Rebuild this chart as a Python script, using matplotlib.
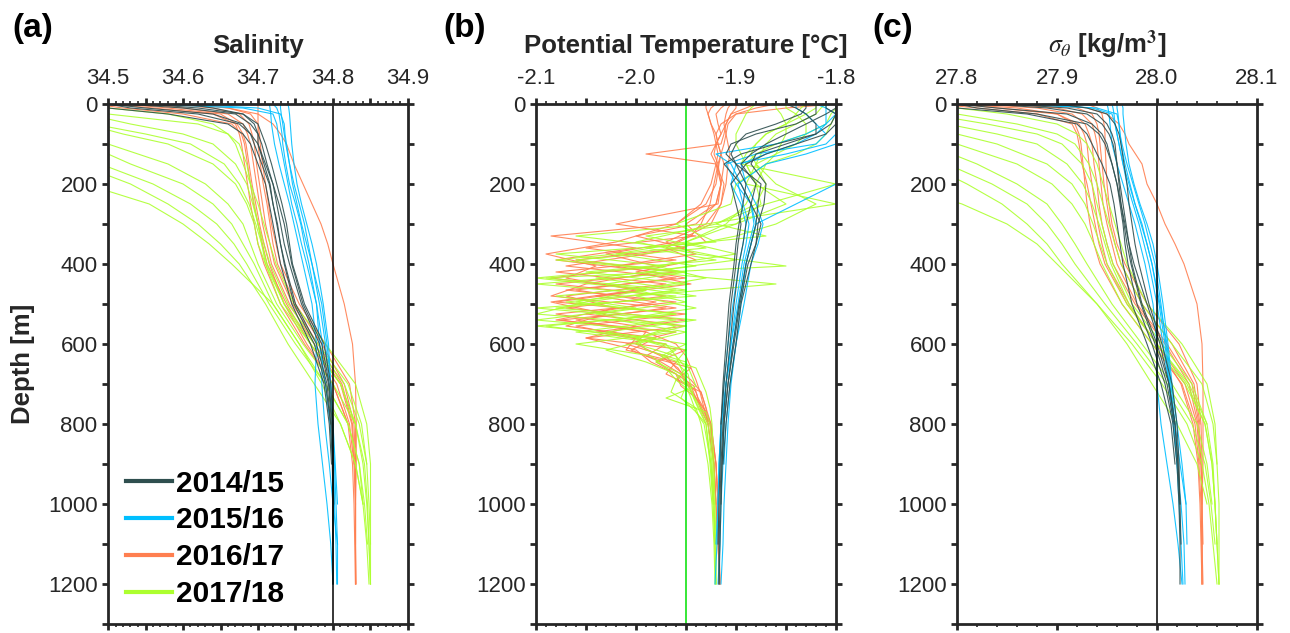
import numpy as np
import matplotlib
matplotlib.use('Agg')
import matplotlib.pyplot as plt
from matplotlib.ticker import MultipleLocator, FuncFormatter
from matplotlib.lines import Line2D

plt.rcParams['font.family'] = ['Liberation Sans', 'DejaVu Sans']
plt.rcParams['mathtext.fontset'] = 'stix'

# ---------------------------------------------------------------- data
YEARS = ['2014/15', '2015/16', '2016/17', '2017/18']
COLORS = ['#2F4F4F', '#00BFFF', '#FF7F50', '#ADFF2F']

# depth grid shared by salinity and sigma-theta profiles [m]
Z_SD = [0, 10, 25, 50, 75, 100, 150, 200, 250, 300, 350, 400, 500, 600,
        700, 800, 900, 1000, 1100, 1200]
# depth grids for potential temperature profiles [m]
Z_T = [0, 10, 25, 50, 75, 100, 125, 150, 200, 250, 300, 350, 400, 500, 600,
       700, 800, 900, 1000, 1100, 1200]
Z_TI = [0, 10, 25, 50, 75, 100, 125, 150, 200, 250, 300, 330, 360, 390, 420,
        450, 480, 510, 540, 570, 600, 630, 660, 690, 720, 760, 800, 900, 1000,
        1100, 1200]
Z_TI2 = [0, 10, 25, 50, 75, 100, 125, 150, 200, 250, 300, 345, 375, 405, 435,
         465, 495, 525, 555, 585, 615, 645, 675, 705, 735, 770, 800, 900, 1000,
         1100, 1200]

# ---- salinity profiles (on Z_SD)
SAL_1415 = [
    [34.50, 34.55, 34.64, 34.68, 34.69, 34.695, 34.705, 34.715, 34.72, 34.725, 34.73, 34.735, 34.748, 34.775, 34.79, 34.797, 34.799, 34.80, 34.80, 34.80],
    [34.52, 34.60, 34.67, 34.69, 34.70, 34.705, 34.712, 34.72, 34.725, 34.73, 34.735, 34.742, 34.758, 34.782, 34.794, 34.798, 34.80, 34.801],
    [34.46, 34.50, 34.58, 34.66, 34.68, 34.69, 34.70, 34.71, 34.715, 34.72, 34.725, 34.73, 34.745, 34.77, 34.788, 34.795, 34.798],
    [34.60, 34.64, 34.68, 34.70, 34.705, 34.71, 34.718, 34.725, 34.732, 34.738, 34.742, 34.746, 34.762, 34.788, 34.797, 34.80, 34.80, 34.80, 34.80],
    [34.55, 34.62, 34.68, 34.695, 34.70, 34.70, 34.708, 34.716, 34.72, 34.726, 34.73, 34.736, 34.75, 34.778, 34.792, 34.797],
    [34.50, 34.53, 34.62, 34.675, 34.69, 34.70, 34.71, 34.72, 34.728, 34.735, 34.74, 34.745, 34.76, 34.785, 34.795, 34.799, 34.80, 34.80, 34.80, 34.80],
]
SAL_1516 = [
    [34.715, 34.716, 34.717, 34.718, 34.72, 34.722, 34.728, 34.735, 34.742, 34.748, 34.754, 34.760, 34.772, 34.778, 34.776, 34.780, 34.786, 34.792, 34.797, 34.800],
    [34.60, 34.70, 34.73, 34.735, 34.736, 34.738, 34.742, 34.748, 34.755, 34.762, 34.767, 34.772, 34.782, 34.790, 34.795, 34.799, 34.802, 34.804, 34.806, 34.806],
    [34.74, 34.741, 34.742, 34.743, 34.744, 34.745, 34.748, 34.752, 34.758, 34.765, 34.772, 34.778, 34.787, 34.794, 34.797, 34.800, 34.803, 34.806],
    [34.55, 34.68, 34.72, 34.725, 34.727, 34.73, 34.735, 34.74, 34.745, 34.752, 34.758, 34.765, 34.778, 34.786, 34.785, 34.789, 34.795, 34.80, 34.806],
    [34.72, 34.725, 34.728, 34.73, 34.732, 34.733, 34.737, 34.742, 34.75, 34.757, 34.762, 34.768, 34.778, 34.782, 34.79, 34.796, 34.80],
    [34.73, 34.73, 34.731, 34.733, 34.735, 34.737, 34.742, 34.746, 34.752, 34.758, 34.765, 34.772, 34.785, 34.792, 34.797, 34.800, 34.801, 34.802, 34.804, 34.805],
]
SAL_1617 = [
    [34.60, 34.66, 34.70, 34.72, 34.73, 34.738, 34.748, 34.76, 34.772, 34.784, 34.793, 34.80, 34.815, 34.826, 34.83, 34.831, 34.831, 34.83, 34.83, 34.83],
    [34.50, 34.56, 34.64, 34.67, 34.675, 34.678, 34.682, 34.686, 34.69, 34.695, 34.70, 34.708, 34.73, 34.762, 34.80, 34.82, 34.826, 34.828, 34.829, 34.83],
    [34.55, 34.60, 34.66, 34.68, 34.686, 34.69, 34.694, 34.698, 34.702, 34.706, 34.712, 34.718, 34.742, 34.775, 34.81, 34.825, 34.828, 34.83],
    [34.62, 34.66, 34.69, 34.70, 34.702, 34.703, 34.706, 34.71, 34.714, 34.718, 34.724, 34.73, 34.755, 34.79, 34.822, 34.83, 34.83, 34.83, 34.83],
    [34.48, 34.52, 34.60, 34.665, 34.678, 34.682, 34.686, 34.69, 34.694, 34.70, 34.706, 34.712, 34.738, 34.77, 34.805, 34.822, 34.828],
    [34.70, 34.70, 34.70, 34.70, 34.70, 34.70, 34.703, 34.707, 34.712, 34.716, 34.72, 34.726, 34.75, 34.785, 34.815, 34.828, 34.83, 34.83, 34.83, 34.83],
    [34.58, 34.64, 34.675, 34.688, 34.692, 34.695, 34.698, 34.702, 34.706, 34.71, 34.716, 34.722, 34.746, 34.78, 34.812, 34.826, 34.829, 34.83, 34.83, 34.831],
    [34.52, 34.58, 34.65, 34.672, 34.68, 34.684, 34.688, 34.692, 34.697, 34.702, 34.708, 34.715, 34.735, 34.765, 34.80, 34.82],
]
SAL_1718 = [
    [34.40, 34.45, 34.50, 34.62, 34.66, 34.675, 34.685, 34.69, 34.695, 34.70, 34.705, 34.71, 34.73, 34.77, 34.81, 34.83, 34.84, 34.845, 34.848, 34.85],
    [34.35, 34.38, 34.42, 34.47, 34.52, 34.58, 34.64, 34.67, 34.685, 34.695, 34.70, 34.71, 34.735, 34.775, 34.815, 34.835, 34.845, 34.848, 34.85],
    [34.30, 34.32, 34.35, 34.39, 34.43, 34.47, 34.53, 34.60, 34.64, 34.665, 34.68, 34.695, 34.72, 34.755, 34.79, 34.82, 34.835, 34.84],
    [34.25, 34.27, 34.30, 34.34, 34.38, 34.41, 34.46, 34.53, 34.58, 34.62, 34.65, 34.675, 34.71, 34.74, 34.775, 34.81, 34.83, 34.84, 34.845, 34.848],
    [34.20, 34.22, 34.25, 34.28, 34.31, 34.34, 34.40, 34.47, 34.555, 34.60, 34.635, 34.665, 34.72, 34.755, 34.785, 34.81, 34.83, 34.84],
    [34.30, 34.33, 34.37, 34.42, 34.46, 34.50, 34.58, 34.63, 34.66, 34.68, 34.69, 34.70, 34.725, 34.76, 34.80, 34.83, 34.842, 34.846, 34.848, 34.85],
    [34.40, 34.43, 34.47, 34.53, 34.60, 34.64, 34.67, 34.685, 34.693, 34.70, 34.708, 34.716, 34.74, 34.78, 34.82, 34.838, 34.845],
    [34.20, 34.23, 34.27, 34.32, 34.37, 34.41, 34.49, 34.56, 34.61, 34.645, 34.668, 34.685, 34.715, 34.75, 34.79, 34.82, 34.835, 34.842, 34.846],
    [34.35, 34.38, 34.42, 34.48, 34.55, 34.61, 34.655, 34.675, 34.688, 34.697, 34.705, 34.712, 34.735, 34.77, 34.81, 34.83],
    [34.47, 34.50, 34.58, 34.64, 34.66, 34.67, 34.68, 34.69, 34.70, 34.708, 34.716, 34.724, 34.748, 34.79, 34.83, 34.845, 34.85, 34.85, 34.85, 34.85],
]

# ---- potential temperature profiles
# 2014/15 and 2015/16 on Z_T
THETA_1415 = [
    [-1.80, -1.80, -1.81, -1.83, -1.85, -1.87, -1.885, -1.895, -1.88, -1.885, -1.89, -1.893, -1.897, -1.902, -1.906, -1.91, -1.913, -1.915, -1.916, -1.917, -1.917],
    [-1.82, -1.82, -1.82, -1.84, -1.88, -1.905, -1.91, -1.90, -1.875, -1.878, -1.88, -1.885, -1.89, -1.897, -1.903, -1.908, -1.912, -1.914, -1.915],
    [-1.81, -1.81, -1.80, -1.80, -1.81, -1.84, -1.87, -1.89, -1.905, -1.90, -1.895, -1.898, -1.90, -1.905, -1.908, -1.912, -1.915, -1.916, -1.917, -1.918],
    [-1.85, -1.84, -1.83, -1.82, -1.82, -1.86, -1.895, -1.912, -1.895, -1.885, -1.875, -1.88, -1.885, -1.895, -1.90, -1.906, -1.91, -1.913],
    [-1.80, -1.80, -1.80, -1.805, -1.82, -1.85, -1.88, -1.885, -1.87, -1.872, -1.878, -1.88, -1.888, -1.896, -1.902, -1.908, -1.912, -1.914, -1.915, -1.916, -1.917],
    [-1.83, -1.83, -1.835, -1.86, -1.89, -1.90, -1.905, -1.90, -1.89, -1.893, -1.897, -1.90, -1.902, -1.907, -1.91, -1.913, -1.915],
]
THETA_1516 = [
    [-1.80, -1.80, -1.80, -1.80, -1.80, -1.81, -1.85, -1.90, -1.905, -1.895, -1.89, -1.893, -1.897, -1.903, -1.908, -1.912, -1.915, -1.917, -1.918, -1.919, -1.921],
    [-1.82, -1.81, -1.80, -1.80, -1.80, -1.80, -1.80, -1.80, -1.80, -1.84, -1.88, -1.885, -1.89, -1.897, -1.903, -1.91, -1.914, -1.916, -1.918, -1.92],
    [-1.84, -1.84, -1.83, -1.82, -1.81, -1.82, -1.88, -1.91, -1.90, -1.885, -1.88, -1.885, -1.89, -1.895, -1.90, -1.905, -1.908, -1.91, -1.912, -1.913, -1.915],
    [-1.80, -1.80, -1.80, -1.81, -1.83, -1.86, -1.92, -1.905, -1.895, -1.885, -1.882, -1.887, -1.892, -1.898, -1.905, -1.91, -1.915, -1.917, -1.918],
    [-1.81, -1.81, -1.81, -1.81, -1.82, -1.84, -1.87, -1.895, -1.89, -1.88, -1.873, -1.878, -1.885, -1.892, -1.90, -1.906, -1.91, -1.912],
    [-1.80, -1.80, -1.80, -1.80, -1.80, -1.80, -1.83, -1.87, -1.898, -1.893, -1.887, -1.89, -1.894, -1.90, -1.905, -1.91, -1.912, -1.913, -1.915, -1.916, -1.918],
]
# 2016/17: part A on Z_TI, part B on Z_TI2
THETA_1617_A = [
    [-1.910, -1.915, -1.920, -1.918, -1.915, -1.920, -1.922, -1.918, -1.915, -1.920, -1.940, -2.000, -1.950, -2.060, -1.960, -2.080, -1.970, -2.070, -1.950, -2.040, -1.970, -1.990, -1.945, -1.960, -1.935, -1.930, -1.925, -1.920, -1.918, -1.917, -1.916],
    [-1.800, -1.850, -1.900, -1.915, -1.920, -1.918, -1.915, -1.917, -1.920, -1.930, -1.960, -2.085, -2.000, -2.080, -1.980, -2.050, -2.085, -1.970, -2.060, -1.990, -2.000, -1.975, -1.958, -1.950, -1.940, -1.935, -1.928, -1.922, -1.920],
    [-1.920, -1.925, -1.928, -1.925, -1.920, -1.918, -1.915, -1.912, -1.915, -1.918, -2.020, -1.940, -2.050, -1.960, -2.080, -1.970, -2.070, -2.020, -2.080, -1.960, -2.010, -1.970, -1.960, -1.945, -1.935, -1.930, -1.928],
    [-1.860, -1.880, -1.900, -1.908, -1.910, -1.912, -1.915, -1.918, -1.922, -1.926, -1.935, -1.945, -1.970, -1.940, -2.000, -1.945, -2.040, -1.960, -2.075, -1.990, -1.960, -1.950, -1.945, -1.940, -1.936, -1.932, -1.928, -1.922, -1.920, -1.918, -1.916],
]
THETA_1617_B = [
    [-1.880, -1.890, -1.905, -1.910, -1.912, -1.915, -1.990, -1.920, -1.912, -1.915, -1.925, -1.960, -2.030, -1.980, -2.085, -1.990, -2.080, -1.950, -2.060, -2.000, -2.010, -1.960, -1.970, -1.945, -1.940, -1.932, -1.926, -1.920, -1.918, -1.917],
    [-1.905, -1.908, -1.910, -1.912, -1.910, -1.908, -1.906, -1.908, -1.910, -1.915, -1.930, -1.970, -1.940, -2.020, -1.950, -2.070, -1.960, -2.080, -2.000, -2.050, -1.950, -1.980, -1.960, -1.955, -1.940, -1.930, -1.925, -1.920, -1.918, -1.917, -1.916],
    [-1.900, -1.900, -1.905, -1.910, -1.915, -1.920, -1.925, -1.920, -1.915, -1.920, -1.950, -1.930, -1.990, -2.070, -1.960, -2.060, -1.980, -2.050, -1.950, -2.050, -2.000, -1.985, -1.960, -1.942, -1.938, -1.930, -1.926, -1.922, -1.920, -1.918, -1.916],
    [-1.930, -1.930, -1.928, -1.925, -1.922, -1.920, -1.918, -1.920, -1.925, -1.935, -1.960, -2.020, -2.090, -2.040, -2.070, -2.000, -2.085, -2.030, -2.070, -1.980, -2.005, -1.975, -1.955, -1.948, -1.940, -1.934, -1.928],
]
# 2017/18: part A on Z_TI, part B on Z_TI2
THETA_1718_A = [
    [-1.800, -1.800, -1.805, -1.810, -1.830, -1.860, -1.880, -1.890, -1.880, -1.850, -1.900, -1.990, -1.930, -2.060, -1.950, -2.100, -1.960, -2.080, -1.940, -2.030, -1.950, -1.975, -1.940, -1.935, -1.930, -1.926, -1.924, -1.922, -1.921, -1.920, -1.920],
    [-1.850, -1.850, -1.840, -1.830, -1.830, -1.840, -1.860, -1.880, -1.890, -1.800, -1.930, -2.060, -1.960, -2.080, -1.950, -2.030, -1.940, -2.100, -1.960, -2.060, -1.970, -1.960, -1.950, -1.960, -1.945, -1.935, -1.928, -1.924, -1.922],
    [-1.810, -1.815, -1.820, -1.840, -1.860, -1.870, -1.875, -1.880, -1.860, -1.820, -1.860, -1.900, -1.960, -1.900, -1.990, -1.860, -2.000, -1.940, -2.020, -1.950, -2.000, -1.960, -1.955, -1.950, -1.945, -1.938, -1.930],
    [-1.830, -1.835, -1.840, -1.850, -1.870, -1.880, -1.885, -1.880, -1.870, -1.880, -1.920, -1.870, -1.990, -1.920, -2.050, -1.950, -2.080, -2.000, -2.100, -1.960, -2.060, -1.985, -1.970, -1.960, -1.965, -1.940, -1.935, -1.928, -1.924, -1.922, -1.921],
]
THETA_1718_B = [
    [-1.820, -1.820, -1.830, -1.850, -1.870, -1.880, -1.890, -1.895, -1.800, -1.870, -1.920, -2.000, -1.940, -1.850, -2.090, -1.960, -2.050, -2.100, -1.950, -2.000, -1.990, -1.950, -1.945, -1.940, -1.970, -1.930, -1.926, -1.923, -1.922, -1.921],
    [-1.880, -1.885, -1.890, -1.895, -1.900, -1.900, -1.895, -1.890, -1.880, -1.875, -1.900, -1.950, -2.020, -1.940, -2.040, -1.950, -2.070, -1.960, -2.100, -1.980, -2.030, -1.990, -1.960, -1.950, -1.955, -1.940, -1.932, -1.925, -1.922, -1.921, -1.920],
    [-1.800, -1.800, -1.800, -1.805, -1.810, -1.820, -1.840, -1.870, -1.900, -1.905, -1.960, -1.920, -2.080, -1.970, -2.100, -1.990, -2.060, -1.960, -2.090, -2.000, -1.960, -1.980, -1.955, -1.950, -1.945, -1.940, -1.930, -1.925, -1.923, -1.921, -1.920],
    [-1.860, -1.860, -1.855, -1.850, -1.850, -1.855, -1.860, -1.870, -1.880, -1.890, -1.910, -1.950, -1.900, -1.980, -1.930, -2.000, -1.950, -2.040, -1.960, -2.000, -1.950, -1.960, -1.948, -1.945, -1.942, -1.935, -1.930, -1.926, -1.923],
]

# ---- sigma-theta profiles (on Z_SD)
SIG_1415 = [
    [27.80, 27.84, 27.91, 27.935, 27.945, 27.95, 27.955, 27.96, 27.963, 27.966, 27.968, 27.971, 27.98, 27.995, 28.008, 28.016, 28.02, 28.022, 28.023, 28.023],
    [27.83, 27.89, 27.93, 27.945, 27.952, 27.956, 27.96, 27.963, 27.966, 27.969, 27.972, 27.975, 27.985, 28.0, 28.012, 28.018, 28.021, 28.023],
    [27.78, 27.80, 27.87, 27.92, 27.93, 27.935, 27.945, 27.953, 27.957, 27.96, 27.963, 27.966, 27.975, 27.99, 28.004, 28.014, 28.018],
    [27.90, 27.93, 27.95, 27.958, 27.962, 27.964, 27.967, 27.97, 27.972, 27.975, 27.978, 27.982, 27.992, 28.005, 28.015, 28.02, 28.022, 28.023, 28.024],
    [27.85, 27.91, 27.94, 27.95, 27.955, 27.958, 27.96, 27.962, 27.964, 27.967, 27.97, 27.974, 27.984, 27.998, 28.01, 28.017],
    [27.80, 27.82, 27.88, 27.93, 27.942, 27.948, 27.955, 27.96, 27.964, 27.968, 27.972, 27.977, 27.99, 28.003, 28.012, 28.018, 28.021, 28.023],
]
SIG_1516 = [
    [27.95, 27.951, 27.952, 27.953, 27.954, 27.955, 27.96, 27.966, 27.972, 27.978, 27.983, 27.988, 27.996, 28.0, 28.0, 28.004, 28.01, 28.016, 28.021, 28.025],
    [27.85, 27.94, 27.96, 27.962, 27.963, 27.964, 27.968, 27.973, 27.978, 27.984, 27.99, 27.995, 28.002, 28.008, 28.012, 28.016, 28.02, 28.024, 28.027, 28.028],
    [27.965, 27.966, 27.966, 27.967, 27.968, 27.969, 27.972, 27.977, 27.983, 27.99, 27.996, 28.0, 28.006, 28.011, 28.015, 28.02, 28.025, 28.029, 28.03],
    [27.88, 27.935, 27.955, 27.958, 27.96, 27.962, 27.966, 27.97, 27.976, 27.982, 27.987, 27.992, 28.0, 28.006, 28.012, 28.018, 28.023, 28.029],
    [27.955, 27.956, 27.957, 27.958, 27.96, 27.962, 27.966, 27.972, 27.978, 27.985, 27.99, 27.995, 28.003, 28.01, 28.014, 28.018],
    [27.96, 27.96, 27.961, 27.962, 27.963, 27.965, 27.97, 27.976, 27.982, 27.988, 27.993, 27.998, 28.004, 28.009, 28.013, 28.017, 28.02, 28.022, 28.024, 28.026],
]
SIG_1617 = [
    [27.90, 27.93, 27.95, 27.962, 27.968, 27.972, 27.985, 27.99, 28.0, 28.008, 28.018, 28.027, 28.04, 28.045, 28.046, 28.046, 28.046, 28.045, 28.045, 28.045],
    [27.80, 27.86, 27.90, 27.918, 27.922, 27.924, 27.926, 27.928, 27.93, 27.933, 27.937, 27.943, 27.965, 27.995, 28.025, 28.038, 28.042, 28.044, 28.045, 28.045],
    [27.85, 27.90, 27.925, 27.935, 27.938, 27.94, 27.942, 27.944, 27.946, 27.95, 27.955, 27.96, 27.98, 28.01, 28.035, 28.042, 28.044, 28.045],
    [27.93, 27.94, 27.945, 27.947, 27.948, 27.948, 27.949, 27.95, 27.952, 27.955, 27.96, 27.968, 27.99, 28.022, 28.04, 28.044, 28.045, 28.045, 28.046],
    [27.78, 27.82, 27.88, 27.915, 27.92, 27.922, 27.925, 27.93, 27.934, 27.938, 27.942, 27.948, 27.97, 28.0, 28.028, 28.04, 28.043],
    [27.82, 27.88, 27.915, 27.928, 27.932, 27.935, 27.937, 27.94, 27.942, 27.945, 27.95, 27.956, 27.978, 28.008, 28.032, 28.041, 28.044, 28.045, 28.045, 28.046],
    [27.88, 27.92, 27.935, 27.94, 27.942, 27.943, 27.945, 27.947, 27.95, 27.953, 27.958, 27.964, 27.985, 28.015, 28.037, 28.043],
    [27.80, 27.84, 27.90, 27.922, 27.927, 27.93, 27.932, 27.935, 27.938, 27.941, 27.945, 27.95, 27.972, 28.0, 28.024, 28.036, 28.041, 28.043, 28.044, 28.045],
]
SIG_1718 = [
    [27.70, 27.73, 27.77, 27.83, 27.88, 27.905, 27.925, 27.935, 27.94, 27.945, 27.95, 27.956, 27.975, 28.005, 28.035, 28.05, 28.056, 28.058, 28.06, 28.062],
    [27.65, 27.67, 27.71, 27.76, 27.80, 27.84, 27.89, 27.915, 27.928, 27.936, 27.943, 27.95, 27.97, 28.0, 28.03, 28.048, 28.055, 28.058, 28.06],
    [27.60, 27.62, 27.65, 27.69, 27.73, 27.77, 27.82, 27.86, 27.89, 27.905, 27.918, 27.93, 27.955, 27.985, 28.015, 28.04, 28.05, 28.055],
    [27.55, 27.57, 27.60, 27.64, 27.68, 27.71, 27.77, 27.81, 27.845, 27.87, 27.89, 27.905, 27.94, 27.975, 28.005, 28.03, 28.045, 28.052, 28.056, 28.06],
    [27.50, 27.52, 27.55, 27.59, 27.63, 27.66, 27.70, 27.74, 27.805, 27.85, 27.88, 27.90, 27.94, 27.97, 27.995, 28.02, 28.04, 28.05],
    [27.60, 27.63, 27.67, 27.72, 27.76, 27.80, 27.86, 27.895, 27.915, 27.928, 27.937, 27.945, 27.965, 27.995, 28.028, 28.048, 28.055, 28.058, 28.06, 28.062],
    [27.72, 27.76, 27.80, 27.86, 27.90, 27.918, 27.932, 27.94, 27.946, 27.952, 27.958, 27.964, 27.985, 28.015, 28.045, 28.056, 28.06],
    [27.55, 27.58, 27.62, 27.66, 27.70, 27.74, 27.79, 27.835, 27.87, 27.89, 27.905, 27.918, 27.948, 27.98, 28.01, 28.035, 28.048, 28.054, 28.058],
    [27.65, 27.69, 27.74, 27.79, 27.84, 27.88, 27.91, 27.926, 27.935, 27.942, 27.948, 27.954, 27.972, 28.0, 28.032, 28.05],
    [27.78, 27.80, 27.85, 27.90, 27.92, 27.93, 27.94, 27.946, 27.952, 27.958, 27.964, 27.97, 27.99, 28.025, 28.05, 28.058, 28.06, 28.062, 28.062, 28.062],
]

# reference lines
REF_SAL = 34.80
REF_THETA = -1.95
REF_SIG = 28.00

# ---------------------------------------------------------------- figure
fig = plt.figure(figsize=(12.9, 6.33), dpi=100)
FW, FH = 1290.0, 633.0
W = 300 / FW
H = 520 / FH
BOT = 1 - 624 / FH
LEFTS = [108 / FW, 536 / FW, 957 / FW]
INK = '#262626'

# (profiles, depth grid, year index) in drawing order
panels = [
    dict(data=[(SAL_1617, Z_SD, 2), (SAL_1718, Z_SD, 3),
               (SAL_1516, Z_SD, 1), (SAL_1415, Z_SD, 0)],
         xlim=(34.5, 34.9), major=0.05, minor=0.01, ref=REF_SAL, refc='black',
         title='Salinity', tag='(a)', tagx=12),
    dict(data=[(THETA_1617_A, Z_TI, 2), (THETA_1617_B, Z_TI2, 2),
               (THETA_1718_A, Z_TI, 3), (THETA_1718_B, Z_TI2, 3),
               (THETA_1516, Z_T, 1), (THETA_1415, Z_T, 0)],
         xlim=(-2.1, -1.8), major=0.05, minor=0.01, ref=REF_THETA, refc='#00E000',
         title='Potential Temperature [\u00b0C]', tag='(b)', tagx=443),
    dict(data=[(SIG_1617, Z_SD, 2), (SIG_1718, Z_SD, 3),
               (SIG_1516, Z_SD, 1), (SIG_1415, Z_SD, 0)],
         xlim=(27.8, 28.1), major=0.1, minor=0.02, ref=REF_SIG, refc='black',
         title=r'$\sigma_\theta$ [kg/m$^{\mathbf{3}}$]', tag='(c)', tagx=872),
]


def xfmt(v, p):
    if abs(round(v * 10) - v * 10) < 1e-6:
        return f'{v:.1f}'
    return ''


def yfmt(v, p):
    iv = int(round(v))
    return str(iv) if iv % 200 == 0 else ''


axes = []
for i, P in enumerate(panels):
    ax = fig.add_axes([LEFTS[i], BOT, W, H])
    axes.append(ax)
    for profs, zg, k in P['data']:
        for v in profs:
            n = min(len(v), len(zg))
            ax.plot(v[:n], zg[:n], color=COLORS[k], lw=0.8, alpha=0.9,
                    solid_joinstyle='round', zorder=2)
    ax.axvline(P['ref'], color=P['refc'], lw=1.1, zorder=3)
    ax.set_xlim(*P['xlim'])
    ax.set_ylim(1300, 0)
    ax.xaxis.set_major_locator(MultipleLocator(P['major']))
    ax.xaxis.set_minor_locator(MultipleLocator(P['minor']))
    ax.xaxis.set_major_formatter(FuncFormatter(xfmt))
    ax.yaxis.set_major_locator(MultipleLocator(100))
    ax.yaxis.set_major_formatter(FuncFormatter(yfmt))
    ax.tick_params(axis='x', which='both', top=True, bottom=True,
                   labeltop=True, labelbottom=False, direction='out')
    ax.tick_params(axis='y', which='both', left=True, right=True,
                   labelleft=True, labelright=False, direction='out')
    ax.tick_params(which='major', length=4.5, width=2.0, color=INK,
                   labelsize=16, labelcolor=INK)
    ax.tick_params(which='minor', length=2.2, width=1.2, color=INK)
    ax.tick_params(axis='x', which='major', pad=6)
    ax.tick_params(axis='y', which='major', pad=3)
    for s in ax.spines.values():
        s.set_linewidth(2.0)
        s.set_color(INK)
        s.set_zorder(4)
    ax.text(0.5, 1 + (104 - 53) / 520, P['title'], transform=ax.transAxes,
            ha='center', va='baseline', fontsize=18.5, fontweight='bold',
            color=INK)
    fig.text(P['tagx'] / FW, 1 - 29 / FH, P['tag'], ha='left', va='center',
             fontsize=24, fontweight='bold', color='black')

fig.text(23 / FW, 1 - 364 / FH, 'Depth [m]', rotation=90, ha='center',
         va='center', fontsize=18.5, fontweight='bold', color=INK)

handles = [Line2D([0], [0], color=c, lw=3.0) for c in COLORS]
leg = axes[0].legend(handles, YEARS, loc='lower left',
                     bbox_to_anchor=(0.06, 0.03), borderaxespad=0,
                     borderpad=0, frameon=False, handlelength=1.55,
                     handletextpad=0.12, labelspacing=0.3,
                     prop={'family': 'Liberation Sans', 'weight': 'bold',
                           'size': 21.5})

fig.savefig('out.png', dpi=100)
